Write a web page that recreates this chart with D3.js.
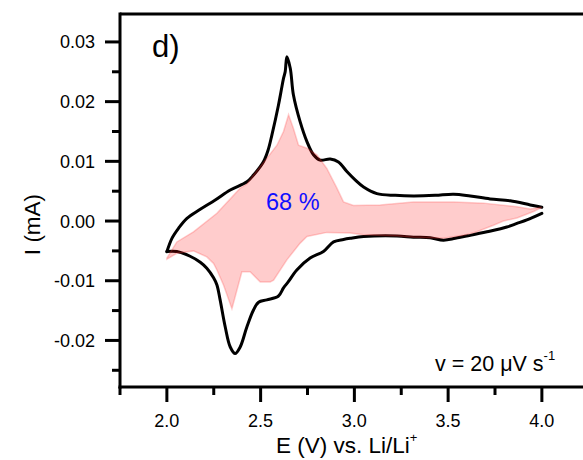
<!DOCTYPE html>
<html><head><meta charset="utf-8">
<script src="https://cdn.jsdelivr.net/npm/d3@7"></script>
<style>body{margin:0;background:#fff}svg{display:block}text{font-family:"Liberation Sans",Arial,sans-serif;fill:#000}</style>
</head><body><svg id="c" width="583" height="460"></svg>
<script>
// Black CV curve: forward (anodic) scan 2.0 -> 4.0 V
const fwdE = [2.000,2.027,2.062,2.107,2.178,2.258,2.338,2.427,2.462,2.515,2.540,2.560,2.595,2.610,2.622,2.631,2.640,2.658,2.675,2.711,2.747,2.782,2.818,2.871,2.915,2.960,3.004,3.049,3.120,3.218,3.315,3.431,3.529,3.618,3.724,3.831,3.938,4.000];
const fwdI = [-0.00514,-0.00290,-0.00122,0.00045,0.00196,0.00352,0.00519,0.00658,0.0077,0.00993,0.0119,0.0144,0.0194,0.0219,0.0239,0.0250,0.0275,0.0256,0.0211,0.0166,0.0133,0.0111,0.0102,0.0104,0.0099,0.0083,0.0069,0.0057,0.0046,0.0043,0.0042,0.0043,0.0045,0.0042,0.0037,0.0034,0.0027,0.0023];
// Black CV curve: reverse (cathodic) scan 4.0 -> 2.0 V
const revE = [4.000,3.920,3.867,3.813,3.707,3.618,3.538,3.475,3.404,3.315,3.227,3.049,2.978,2.942,2.889,2.835,2.764,2.693,2.647,2.622,2.594,2.533,2.489,2.462,2.427,2.391,2.364,2.338,2.311,2.284,2.267,2.249,2.213,2.178,2.124,2.053,2.000];
const revI = [0.0013,0.0002,-0.0004,-0.0010,-0.0018,-0.0024,-0.0029,-0.0032,-0.0028,-0.0027,-0.0025,-0.0026,-0.0029,-0.0031,-0.0035,-0.0051,-0.0062,-0.0082,-0.0102,-0.0112,-0.0126,-0.0132,-0.0136,-0.0149,-0.0177,-0.0211,-0.0222,-0.0211,-0.0177,-0.0132,-0.0107,-0.0095,-0.0079,-0.0069,-0.0059,-0.0051,-0.0051];
// Shaded region (68 %): upper edge 2.0 -> 4.0, lower edge 4.0 -> 2.0
const shadeUpE = [2.000,2.053,2.142,2.267,2.391,2.427,2.462,2.533,2.587,2.622,2.649,2.675,2.702,2.747,2.800,2.853,2.907,2.942,2.995,3.138,3.315,3.529,3.689,3.867,3.938,4.000];
const shadeUpI = [-0.0062,-0.0035,-0.0018,0.0013,0.0055,0.0062,0.0077,0.0105,0.0127,0.0150,0.0178,0.0155,0.0127,0.0122,0.0111,0.0088,0.0055,0.0032,0.0026,0.0027,0.0032,0.0032,0.0030,0.0024,0.0020,0.0023];
const shadeLoE = [4.000,3.956,3.867,3.795,3.742,3.653,3.582,3.475,3.315,3.227,3.049,2.978,2.853,2.747,2.711,2.640,2.569,2.551,2.498,2.444,2.400,2.347,2.302,2.267,2.249,2.213,2.142,2.053,2.000];
const shadeLoI = [0.0023,0.0016,0.0005,0.0000,-0.0007,-0.0018,-0.0024,-0.0029,-0.0027,-0.0025,-0.0023,-0.0020,-0.0019,-0.0026,-0.0037,-0.0065,-0.0099,-0.0102,-0.0102,-0.0085,-0.0085,-0.0147,-0.0107,-0.0082,-0.0071,-0.0060,-0.0050,-0.0054,-0.0064];
const xMajor = [2.0,2.5,3.0,3.5,4.0];
const xMinor = [1.75,2.25,2.75,3.25,3.75];
const yMajor = [-0.02,-0.01,0.00,0.01,0.02,0.03];
const yMinor = [-0.025,-0.015,-0.005,0.005,0.015,0.025];
const xTickLabels = ["2.0","2.5","3.0","3.5","4.0"];
const yTickLabels = ["-0.02","-0.01","0.00","0.01","0.02","0.03"];

const svg = d3.select("#c");
svg.append("rect").attr("width",583).attr("height",460).attr("fill","#fff");
const L=120, R=588.75, T=14, B=387;
const x = d3.scaleLinear().domain([1.75,4.25]).range([L,R]);
const y = d3.scaleLinear().domain([-0.0278,0.03468]).range([B,T]);

const line = d3.line().x(d=>x(d[0])).y(d=>y(d[1])).curve(d3.curveCatmullRom.alpha(0.5));
const fwd = fwdE.map((e,i)=>[e,fwdI[i]]);
const rev = revE.map((e,i)=>[e,revI[i]]);
svg.append("path").attr("d",line(fwd)).attr("fill","none").attr("stroke","#000").attr("stroke-width",3).attr("stroke-linejoin","round").attr("stroke-linecap","round");
svg.append("path").attr("d",line(rev)).attr("fill","none").attr("stroke","#000").attr("stroke-width",3).attr("stroke-linejoin","round").attr("stroke-linecap","round");

const shade = shadeUpE.map((e,i)=>[e,shadeUpI[i]]).concat(shadeLoE.map((e,i)=>[e,shadeLoI[i]]));
const sline = d3.line().x(d=>x(d[0])).y(d=>y(d[1]));
svg.append("path").attr("d",sline(shade)+"Z").attr("fill","rgba(255,0,0,0.2)").attr("stroke","rgba(255,60,60,0.25)").attr("stroke-width",1.5);

// axes
const ax = svg.append("g").attr("stroke","#000").attr("stroke-width",3);
ax.append("line").attr("x1",L).attr("x2",583).attr("y1",T).attr("y2",T);
ax.append("line").attr("x1",L).attr("x2",L).attr("y1",T-1.5).attr("y2",B+1.5);
ax.append("line").attr("x1",L-1.5).attr("x2",583).attr("y1",B).attr("y2",B);
xMajor.forEach(v=>ax.append("line").attr("x1",x(v)).attr("x2",x(v)).attr("y1",B).attr("y2",B+15));
xMinor.forEach(v=>ax.append("line").attr("x1",x(v)).attr("x2",x(v)).attr("y1",B).attr("y2",B+8));
yMajor.forEach(v=>ax.append("line").attr("y1",y(v)).attr("y2",y(v)).attr("x1",L).attr("x2",L-15));
yMinor.forEach(v=>ax.append("line").attr("y1",y(v)).attr("y2",y(v)).attr("x1",L).attr("x2",L-8));

xMajor.forEach((v,i)=>svg.append("text").attr("x",x(v)).attr("y",427).attr("text-anchor","middle").attr("font-size",18).text(xTickLabels[i]));
yMajor.forEach((v,i)=>svg.append("text").attr("x",95).attr("y",y(v)+6.5).attr("text-anchor","end").attr("font-size",18).text(yTickLabels[i]));

const xt = svg.append("text").attr("x",276).attr("y",453).attr("font-size",22.5);
xt.append("tspan").text("E (V) vs. Li/Li");
xt.append("tspan").attr("font-size",13).attr("dy",-11).text("+");
svg.append("text").attr("transform","translate(40,224.5) rotate(-90)").attr("text-anchor","middle").attr("font-size",22.5).text("I (mA)");
svg.append("text").attr("x",152).attr("y",57).attr("font-size",31).text("d)");
svg.append("text").attr("x",266).attr("y",210).attr("font-size",23.5).style("fill","#1010ff").text("68 %");
const vt = svg.append("text").attr("x",435).attr("y",371).attr("font-size",21.5);
vt.append("tspan").text("v = 20 μV s");
vt.append("tspan").attr("font-size",13).attr("dy",-11).text("-1");
</script></body></html>
